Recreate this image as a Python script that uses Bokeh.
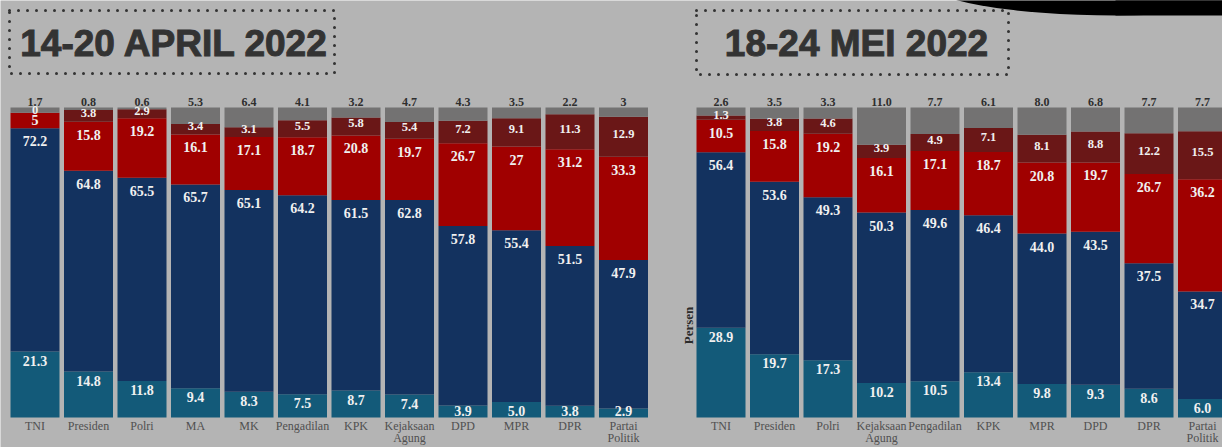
import math
from bokeh.plotting import figure
from bokeh.models import Range1d
from bokeh.core.properties import value
from bokeh.embed import file_html
from bokeh.resources import INLINE

# ---------------- data ----------------
apr_title = "14-20 APRIL 2022"
apr_cats = ["TNI", "Presiden", "Polri", "MA", "MK", "Pengadilan", "KPK",
            "Kejaksaan\nAgung", "DPD", "MPR", "DPR", "Partai\nPolitik"]
apr_sangat_puas = [21.3, 14.8, 11.8, 9.4, 8.3, 7.5, 8.7, 7.4, 3.9, 5.0, 3.8, 2.9]
apr_puas = [72.2, 64.8, 65.5, 65.7, 65.1, 64.2, 61.5, 62.8, 57.8, 55.4, 51.5, 47.9]
apr_tidak_puas = [5, 15.8, 19.2, 16.1, 17.1, 18.7, 20.8, 19.7, 26.7, 27, 31.2, 33.3]
apr_sangat_tidak_puas = [0, 3.8, 2.9, 3.4, 3.1, 5.5, 5.8, 5.4, 7.2, 9.1, 11.3, 12.9]
apr_tidak_tahu = [1.7, 0.8, 0.6, 5.3, 6.4, 4.1, 3.2, 4.7, 4.3, 3.5, 2.2, 3]

mei_title = "18-24 MEI 2022"
mei_cats = ["TNI", "Presiden", "Polri", "Kejaksaan\nAgung", "Pengadilan", "KPK",
            "MPR", "DPD", "DPR", "Partai\nPolitik"]
mei_sangat_puas = [28.9, 19.7, 17.3, 10.2, 10.5, 13.4, 9.8, 9.3, 8.6, 6.0]
mei_puas = [56.4, 53.6, 49.3, 50.3, 49.6, 46.4, 44.0, 43.5, 37.5, 34.7]
mei_tidak_puas = [10.5, 15.8, 19.2, 16.1, 17.1, 18.7, 20.8, 19.7, 26.7, 36.2]
mei_sangat_tidak_puas = [1.3, 3.8, 4.6, 3.9, 4.9, 7.1, 8.1, 8.8, 12.2, 15.5]
mei_tidak_tahu = [2.6, 3.5, 3.3, 11.0, 7.7, 6.1, 8.0, 6.8, 7.7, 7.7]
y_label = "Persen"

# ---------------- style / layout ----------------
BG = "#b4b4b4"
COLORS = ["#135a79", "#13325f", "#a00000", "#6a1717", "#737272"]
SERIF = "Liberation Serif"
TITLE_FONT = "Liberation Sans"
W, H = 1222, 447
PX_CAT = 53.5            # pixels per category slot
BAR_W = 49 / PX_CAT      # bar width in category units
PX_PCT = 3.1             # pixels per percent
CAT0_PX = 34.5           # pixel centre of the first bar
ZERO_PY = 417            # pixel row of the 0 % baseline
MEI_SHIFT = (720.5 - CAT0_PX) / PX_CAT   # where the second panel starts

X0 = -CAT0_PX / PX_CAT
Y0 = -(H - ZERO_PY) / PX_PCT


def xdat(px):
    return X0 + px / PX_CAT


def ydat(py):
    return Y0 + (H - py) / PX_PCT


p = figure(width=W, height=H, output_backend="svg", toolbar_location=None,
           x_range=Range1d(X0, X0 + W / PX_CAT), y_range=Range1d(Y0, Y0 + H / PX_PCT),
           x_axis_location=None, y_axis_location=None, min_border=0,
           background_fill_color=BG, border_fill_color=BG, outline_line_color=None)
p.grid.visible = False

d = 1 / PX_PCT


def draw_panel(cats, series, shift, title, box_px, title_px):
    n = len(cats)
    xs = [shift + i for i in range(n)]
    totals = [sum(s[i] for s in series) for i in range(n)]
    bottom = [0.0] * n
    seg = []
    for k, s in enumerate(series):
        top = [bottom[i] + s[i] / totals[i] * 100 for i in range(n)]
        p.vbar(x=xs, width=BAR_W, bottom=bottom, top=top, fill_color=COLORS[k], line_color=None)
        seg.append((list(bottom), top))
        bottom = top

    lab_y = []
    b, t = seg[0]
    lab_y.append([max(t[i] - 9 * d, b[i] + 7 * d) for i in range(n)])
    b, t = seg[1]
    lab_y.append([t[i] - 13 * d for i in range(n)])
    b, t = seg[2]
    lab_y.append([max(t[i] - 13 * d, (t[i] + b[i]) / 2) for i in range(n)])
    b, t = seg[3]
    lab_y.append([(t[i] + b[i]) / 2 + 3 * d for i in range(n)])
    b, t = seg[4]
    lab_y.append([t[i] + 5.5 * d for i in range(n)])
    sizes = ["14px", "14px", "14px", "12.5px", "12px"]
    cols = ["#f0f0f0", "#f0f0f0", "#f0f0f0", "#f0f0f0", "#2e2e2e"]
    for k, s in enumerate(series):
        p.text(x=xs, y=lab_y[k], text=[str(v) for v in s], text_align="center",
               text_baseline="middle", text_font=value(SERIF), text_font_style="bold",
               text_font_size=sizes[k], text_color=cols[k])

    # category names under the bars
    p.text(x=xs, y=[-1.5 * d] * n, text=cats, text_align="center", text_baseline="top",
           text_font=value(SERIF), text_font_size="12px", text_color="#505050",
           text_line_height=0.85)

    # title with dotted frame
    bl, bt, br, bb = box_px
    p.quad(left=[xdat(bl)], right=[xdat(br)], top=[ydat(bt)], bottom=[ydat(bb)],
           fill_color=None, line_color="#333333", line_width=3, line_dash="0 9",
           line_cap="round")
    p.text(x=[xdat(title_px[0])], y=[ydat(title_px[1])], text=[title],
           text_font=value(TITLE_FONT), text_font_style="bold",
           text_font_size="37px", text_color="#333333", text_outline_color="#333333",
           text_align="center", text_baseline="middle")


draw_panel(apr_cats,
           [apr_sangat_puas, apr_puas, apr_tidak_puas, apr_sangat_tidak_puas, apr_tidak_tahu],
           0, apr_title, (9, 10, 334, 73), (174, 43))
draw_panel(mei_cats,
           [mei_sangat_puas, mei_puas, mei_tidak_puas, mei_sangat_tidak_puas, mei_tidak_tahu],
           MEI_SHIFT, mei_title, (696, 10, 1008, 74), (856, 43))

# y axis title of the second panel
p.text(x=[xdat(688)], y=[ydat(325)], text=[y_label], angle=math.pi / 2,
       text_align="center", text_baseline="middle", text_font=value(SERIF),
       text_font_style="bold", text_font_size="13px", text_color="#2b2b2b")

# decorative dark shape at the top right corner
p.ellipse(x=[xdat(1115)], y=[ydat(-20)], width=384 / PX_CAT, height=70 / PX_PCT,
          fill_color="black", line_color=None)
p.quad(left=[xdat(1115)], right=[xdat(1240)], top=[ydat(-60)], bottom=[ydat(15)],
       fill_color="black", line_color=None)

open("out.html", "w").write(file_html(p, INLINE))
